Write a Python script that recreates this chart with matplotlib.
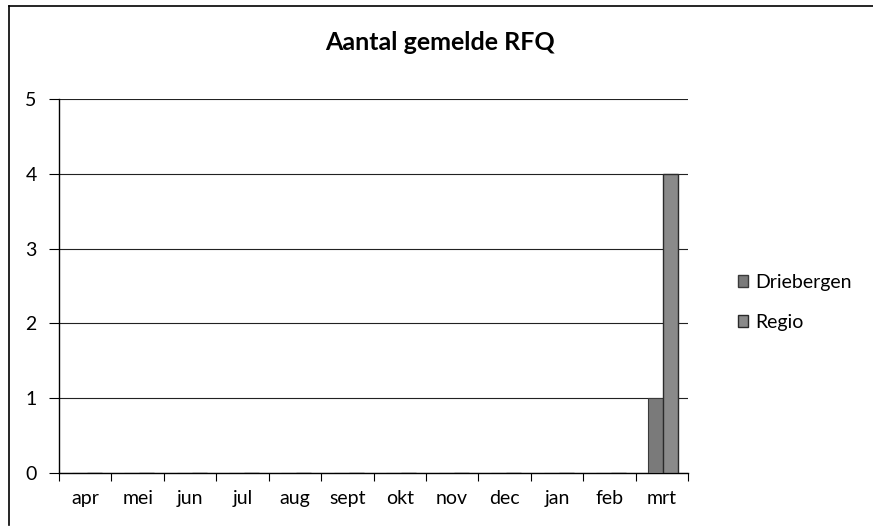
import matplotlib.pyplot as plt
import numpy as np
from matplotlib.patches import Patch
from matplotlib.lines import Line2D

maanden = ['apr', 'mei', 'jun', 'jul', 'aug', 'sept', 'okt', 'nov', 'dec', 'jan', 'feb', 'mrt']
driebergen = [0, 0, 0, 0, 0, 0, 0, 0, 0, 0, 0, 1]
regio = [0, 0, 0, 0, 0, 0, 0, 0, 0, 0, 0, 4]

kleur_driebergen = '#7a7a7a'
kleur_regio = '#8a8a8a'

plt.rcParams['font.family'] = ['Lato', 'DejaVu Sans']

fig = plt.figure(figsize=(8.73, 5.28), dpi=100)
ax = fig.add_axes([0.0676, 0.1042, 0.7205, 0.7083])

x = np.arange(len(maanden))
w = 1 / 3.5
ax.bar(x - w / 2 + 0.03, driebergen, width=w, color=kleur_driebergen, edgecolor='#3a3a3a',
       linewidth=0.8, zorder=3, label='Driebergen')
ax.bar(x + w / 2 + 0.03, regio, width=w, color=kleur_regio, edgecolor='#2a2a2a',
       linewidth=1.0, zorder=3, label='Regio')

ax.set_xlim(-0.5, len(maanden) - 0.5)
ax.set_ylim(0, 5)
ax.set_yticks(range(0, 6))
ax.yaxis.grid(True, color='#222222', linewidth=0.8, zorder=0)
ax.set_axisbelow(True)

ax.set_xticks(x)
ax.set_xticklabels(maanden)
ax.set_xticks(np.arange(-0.5, len(maanden)), minor=True)
ax.tick_params(axis='x', which='major', length=0, pad=12, labelsize=14)
ax.tick_params(axis='x', which='minor', length=6, width=0.8, direction='out')
ax.tick_params(axis='y', length=7, width=0.8, pad=9, labelsize=14)

for s in ['top', 'right']:
    ax.spines[s].set_visible(False)
ax.spines['left'].set_linewidth(1.0)
ax.spines['bottom'].set_linewidth(1.0)

fig.text(0.504, 0.92, 'Aantal gemelde RFQ', ha='center', va='center',
         fontsize=18, fontweight='bold')

handles = [Patch(facecolor=kleur_driebergen, edgecolor='#3a3a3a'),
           Patch(facecolor=kleur_regio, edgecolor='#2a2a2a')]
fig.legend(handles, ['Driebergen', 'Regio'], loc='center left',
           bbox_to_anchor=(0.825, 0.427), frameon=False, fontsize=14,
           handlelength=0.55, handleheight=0.55, handletextpad=0.35, labelspacing=1.2)

# kader rond de grafiek
fig.add_artist(Line2D([0.0103, 0.0103], [0.005, 0.989], color='black', linewidth=1.2))
fig.add_artist(Line2D([0.0103, 1.0], [0.989, 0.989], color='black', linewidth=1.2))

fig.savefig('out.png', dpi=100)
